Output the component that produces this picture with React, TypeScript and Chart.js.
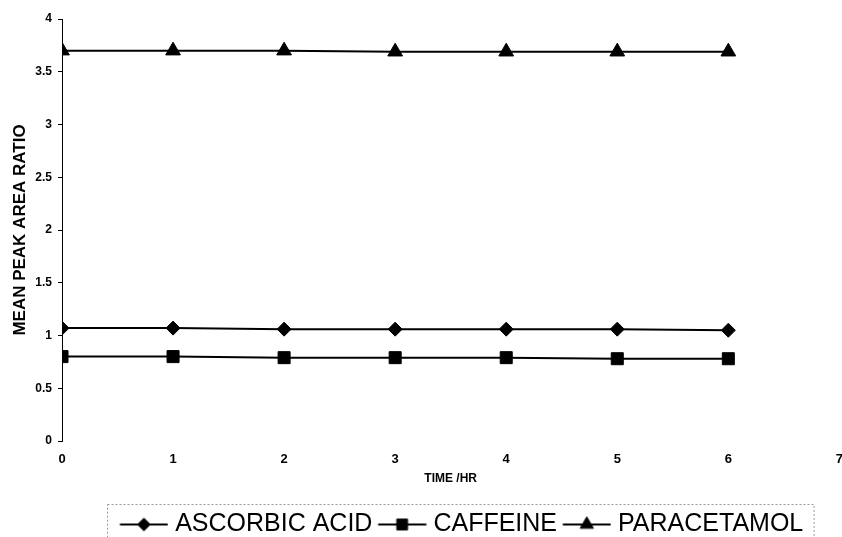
import React, { useEffect, useRef } from "react";
import { Chart, registerables } from "chart.js";
import { drawPoint } from "chart.js/helpers";

Chart.register(...registerables);

const timesHr = [0, 1, 2, 3, 4, 5, 6];
const ascorbicAcid = [1.07, 1.07, 1.06, 1.06, 1.06, 1.06, 1.05];
const caffeine = [0.8, 0.8, 0.79, 0.79, 0.79, 0.78, 0.78];
const paracetamol = [3.7, 3.7, 3.7, 3.69, 3.69, 3.69, 3.69];
const seriesNames = ["ASCORBIC ACID", "CAFFEINE", "PARACETAMOL"];
const seriesMarkers = ["rectRot", "rect", "triangle"];
const seriesRadii = [7, 8.5, 8.5];
const xTickValues = [0, 1, 2, 3, 4, 5, 6, 7];
const yTickValues = [0, 0.5, 1, 1.5, 2, 2.5, 3, 3.5, 4];

const FONT = "'Liberation Sans', Arial, sans-serif";
const NARROW = "'Liberation Sans Narrow', 'Liberation Sans', Arial, sans-serif";

function makeLegendMarker(style: string, radius: number): HTMLCanvasElement {
  const c = document.createElement("canvas");
  c.width = 54;
  c.height = 22;
  const ctx = c.getContext("2d") as CanvasRenderingContext2D;
  ctx.strokeStyle = "#000";
  ctx.lineWidth = 2;
  ctx.beginPath();
  ctx.moveTo(5.5, 11);
  ctx.lineTo(53.5, 11);
  ctx.stroke();
  ctx.fillStyle = "#000";
  ctx.lineWidth = 1;
  drawPoint(ctx, { pointStyle: style as any, radius: radius * 0.9, rotation: 0, borderWidth: 1 } as any, 29.5, 11);
  return c;
}

const legendShiftPlugin = {
  id: "legendShift",
  afterLayout(chart: any) {
    const lg = chart.legend;
    if (!lg) return;
    lg.left += 11;
    lg.right += 11;
  },
};

const legendBoxPlugin = {
  id: "legendBox",
  afterDraw(chart: any) {
    const lg = chart.legend;
    if (!lg || !lg.legendHitBoxes || !lg.legendHitBoxes.length) return;
    const hb = lg.legendHitBoxes;
    const left = Math.min(...hb.map((h: any) => h.left)) - 13.5;
    const right = Math.max(...hb.map((h: any) => h.left + h.width)) + 10;
    const top = hb[0].top - 8.5;
    const ctx = chart.ctx;
    ctx.save();
    ctx.setLineDash([2, 2]);
    ctx.strokeStyle = "#999";
    ctx.lineWidth = 1;
    ctx.strokeRect(Math.round(left) + 0.5, Math.round(top) + 0.5, right - left, 80);
    ctx.restore();
  },
};

export default function App() {
  const ref = useRef<HTMLCanvasElement | null>(null);

  useEffect(() => {
    if (!ref.current) return;
    const seriesValues = [ascorbicAcid, caffeine, paracetamol];
    const markers = seriesMarkers.map((s, i) => makeLegendMarker(s, seriesRadii[i]));
    const chart = new Chart(ref.current, {
      type: "line",
      data: {
        datasets: seriesNames.map((name, i) => ({
          label: name,
          data: timesHr.map((t, j) => ({ x: t, y: seriesValues[i][j] })),
          borderColor: "#000",
          backgroundColor: "#000",
          borderWidth: 2,
          pointStyle: seriesMarkers[i] as any,
          pointRadius: seriesRadii[i],
          pointBackgroundColor: "#000",
          pointBorderColor: "#000",
          pointBorderWidth: 1,
          tension: 0,
        })),
      },
      options: {
        responsive: false,
        animation: false,
        layout: { padding: { left: 0, right: 2, top: 19, bottom: 0 } },
        plugins: {
          tooltip: { enabled: false },
          legend: {
            position: "bottom",
            fullSize: false,
            labels: {
              usePointStyle: true,
              pointStyleWidth: 42.5,
              padding: 6,
              color: "#000",
              font: { family: FONT, size: 25, weight: "normal" },
              generateLabels: () =>
                seriesNames.map((name, i) => ({
                  text: name,
                  pointStyle: markers[i] as any,
                  fillStyle: "#000",
                  strokeStyle: "#000",
                  lineWidth: 0,
                  hidden: false,
                  datasetIndex: i,
                  fontColor: "#000",
                })),
            },
          },
        },
        scales: {
          x: {
            type: "linear",
            min: 0,
            max: 7,
            afterBuildTicks: (scale: any) => {
              scale.ticks = xTickValues.map((v) => ({ value: v }));
            },
            afterFit: (scale: any) => {
              scale.height = 65;
            },
            grid: { display: false, drawTicks: false },
            border: { display: false },
            ticks: {
              color: "#000",
              padding: 11,
              maxRotation: 0,
              font: { family: NARROW, size: 13, weight: "bold" },
            },
            title: {
              display: true,
              text: "TIME /HR",
              color: "#000",
              font: { family: NARROW, size: 12, weight: "bold" },
              padding: { top: 0, bottom: 20 },
            },
          },
          y: {
            type: "linear",
            min: 0,
            max: 4,
            afterBuildTicks: (scale: any) => {
              scale.ticks = yTickValues.map((v) => ({ value: v }));
            },
            afterFit: (scale: any) => {
              scale.width = 62;
            },
            grid: { display: true, drawOnChartArea: false, drawTicks: true, tickLength: 4, color: "#000" },
            border: { display: true, color: "#000", width: 1 },
            ticks: {
              color: "#000",
              padding: 6,
              font: { family: FONT, size: 12, weight: "bold" },
              callback: (v: any) => String(v),
            },
            title: {
              display: true,
              text: "MEAN PEAK AREA RATIO",
              color: "#000",
              font: { family: FONT, size: 17, weight: "bold" },
              padding: { top: 10, bottom: 0 },
            },
          },
        },
      },
      plugins: [legendShiftPlugin, legendBoxPlugin],
    });
    return () => chart.destroy();
  }, []);

  return (
    <div
      style={{
        position: "fixed",
        left: 0,
        top: 0,
        width: 842,
        height: 537,
        overflow: "hidden",
        background: "#fff",
      }}
    >
      <canvas ref={ref} width={854} height={547} style={{ display: "block", width: 854, height: 547 }} />
    </div>
  );
}
